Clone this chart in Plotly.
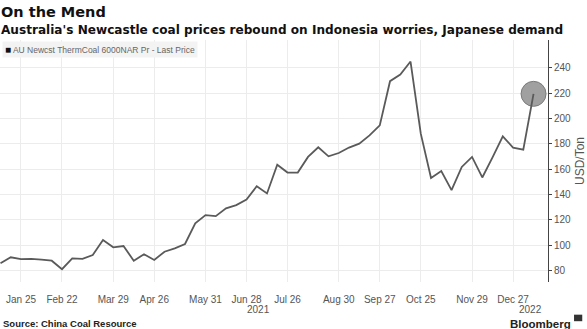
import plotly.graph_objects as go

dates = ["2021-01-11", "2021-01-18", "2021-01-25", "2021-02-01", "2021-02-08", "2021-02-15", "2021-02-22",
         "2021-03-01", "2021-03-08", "2021-03-15", "2021-03-22", "2021-03-29",
         "2021-04-05", "2021-04-12", "2021-04-19", "2021-04-26",
         "2021-05-03", "2021-05-10", "2021-05-17", "2021-05-24", "2021-05-31",
         "2021-06-07", "2021-06-14", "2021-06-21", "2021-06-28",
         "2021-07-05", "2021-07-12", "2021-07-19", "2021-07-26",
         "2021-08-02", "2021-08-09", "2021-08-16", "2021-08-23", "2021-08-30",
         "2021-09-06", "2021-09-13", "2021-09-20", "2021-09-27",
         "2021-10-04", "2021-10-11", "2021-10-18", "2021-10-25",
         "2021-11-01", "2021-11-08", "2021-11-15", "2021-11-22", "2021-11-29",
         "2021-12-06", "2021-12-13", "2021-12-20", "2021-12-27",
         "2022-01-03", "2022-01-10"]

prices = [85.8, 90.5, 89.0, 89.2, 88.6, 87.8, 81.1, 89.7, 89.2, 92.3,
          104.1, 98.4, 99.4, 87.8, 92.9, 88.4, 94.9, 97.6, 101.0, 117.3,
          123.8, 123.0, 129.1, 131.7, 136.1, 146.6, 140.9, 163.5, 157.4, 157.4,
          169.7, 177.3, 170.2, 172.8, 177.1, 180.2, 186.7, 194.6, 229.5, 234.7,
          245.0, 188.1, 153.1, 158.6, 143.5, 161.8, 169.7, 153.5, 169.4, 186.0,
          177.1, 175.5, 219.5]

tick_dates = ["2021-01-25", "2021-02-22", "2021-03-29", "2021-04-26", "2021-05-31", "2021-06-28",
              "2021-07-26", "2021-08-30", "2021-09-27", "2021-10-25", "2021-11-29", "2021-12-27"]
tick_labels = ["Jan 25", "Feb 22", "Mar 29", "Apr 26", "May 31", "Jun 28",
               "Jul 26", "Aug 30", "Sep 27", "Oct 25", "Nov 29", "Dec 27"]
y_ticks = [80, 100, 120, 140, 160, 180, 200, 220, 240]
year_labels = ["2021", "2022"]
year_positions = ["2021-07-06", "2022-01-08"]

FONT = "Liberation Sans"
BOLD = "DejaVu Sans"
GREY = "#555555"

fig = go.Figure()
# highlight circle on the latest value (drawn first so the line shows through)
fig.add_trace(go.Scatter(x=[dates[-1]], y=[prices[-1]], mode="markers",
                         marker=dict(size=25, color="#a0a0a0",
                                     line=dict(color="#7a7a7a", width=1)),
                         hoverinfo="skip"))
fig.add_trace(go.Scatter(x=dates, y=prices, mode="lines",
                         line=dict(color="#5a5a5a", width=1.8), hoverinfo="skip"))

fig.update_layout(
    width=587, height=329,
    margin=dict(l=0, r=39, t=40, b=47),
    paper_bgcolor="white", plot_bgcolor="white",
    showlegend=False,
    font=dict(family=FONT, size=10, color=GREY),
    xaxis=dict(type="date", range=["2021-01-10 16:00", "2022-01-19 21:00"],
               tickvals=tick_dates, ticktext=tick_labels,
               showgrid=True, gridcolor="#ececec", gridwidth=1,
               showline=False, zeroline=False,
               ticks="outside", ticklen=8, tickcolor="rgba(0,0,0,0)",
               tickfont=dict(family=FONT, size=10, color=GREY)),
    yaxis=dict(side="right", range=[71, 262], tickvals=y_ticks,
               showgrid=True, gridcolor="#ececec", gridwidth=1,
               showline=True, linecolor="#444444", linewidth=1,
               ticks="outside", ticklen=3, tickcolor="#444444",
               zeroline=False,
               tickfont=dict(family=FONT, size=10, color=GREY),
               title=dict(text="USD/Ton", font=dict(family=FONT, size=12, color=GREY), standoff=5)),
)

fig.add_annotation(text="<b>On the Mend</b>", xref="paper", yref="paper", x=0, y=1,
                   xanchor="left", yanchor="bottom", yshift=18, xshift=-1, showarrow=False,
                   font=dict(family=BOLD, size=14.5, color="#111111"))
fig.add_annotation(text="<b>Australia's Newcastle coal prices rebound on Indonesia worries, Japanese demand</b>",
                   xref="paper", yref="paper", x=0, y=1, xanchor="left", yanchor="bottom",
                   yshift=1, xshift=-1, showarrow=False,
                   font=dict(family=BOLD, size=12.1, color="#111111"))
fig.add_annotation(text="<span style='color:#111111;font-size:10px'>■</span> AU Newcst ThermCoal 6000NAR Pr - Last Price",
                   xref="paper", yref="paper", x=0, y=1, xanchor="left", yanchor="top",
                   xshift=2, yshift=-1, showarrow=False, bgcolor="#f3f3f3", borderpad=2,
                   font=dict(family=FONT, size=8.5, color="#666666"))
for lbl, pos in zip(year_labels, year_positions):
    fig.add_annotation(text=lbl, x=pos, xref="x", y=0, yref="paper", yanchor="top",
                       yshift=-20, showarrow=False, font=dict(family=FONT, size=10, color=GREY))
fig.add_annotation(text="<b>Source: China Coal Resource</b>", xref="paper", yref="paper",
                   x=0, y=0, xanchor="left", yanchor="top", yshift=-34, xshift=1, showarrow=False,
                   font=dict(family=FONT, size=9.5, color="#222222"))
fig.add_annotation(text="<b>Bloomberg</b>", xref="paper", yref="paper",
                   x=1, y=0, xanchor="right", yanchor="top", yshift=-34, xshift=25, showarrow=False,
                   font=dict(family=FONT, size=11.5, color="#222222"))
fig.add_shape(type="rect", xref="paper", yref="paper", x0=1.0475, x1=1.0625, y0=-0.162, y1=-0.135,
              fillcolor="#333333", line=dict(width=0))

fig.write_html("out.html")
